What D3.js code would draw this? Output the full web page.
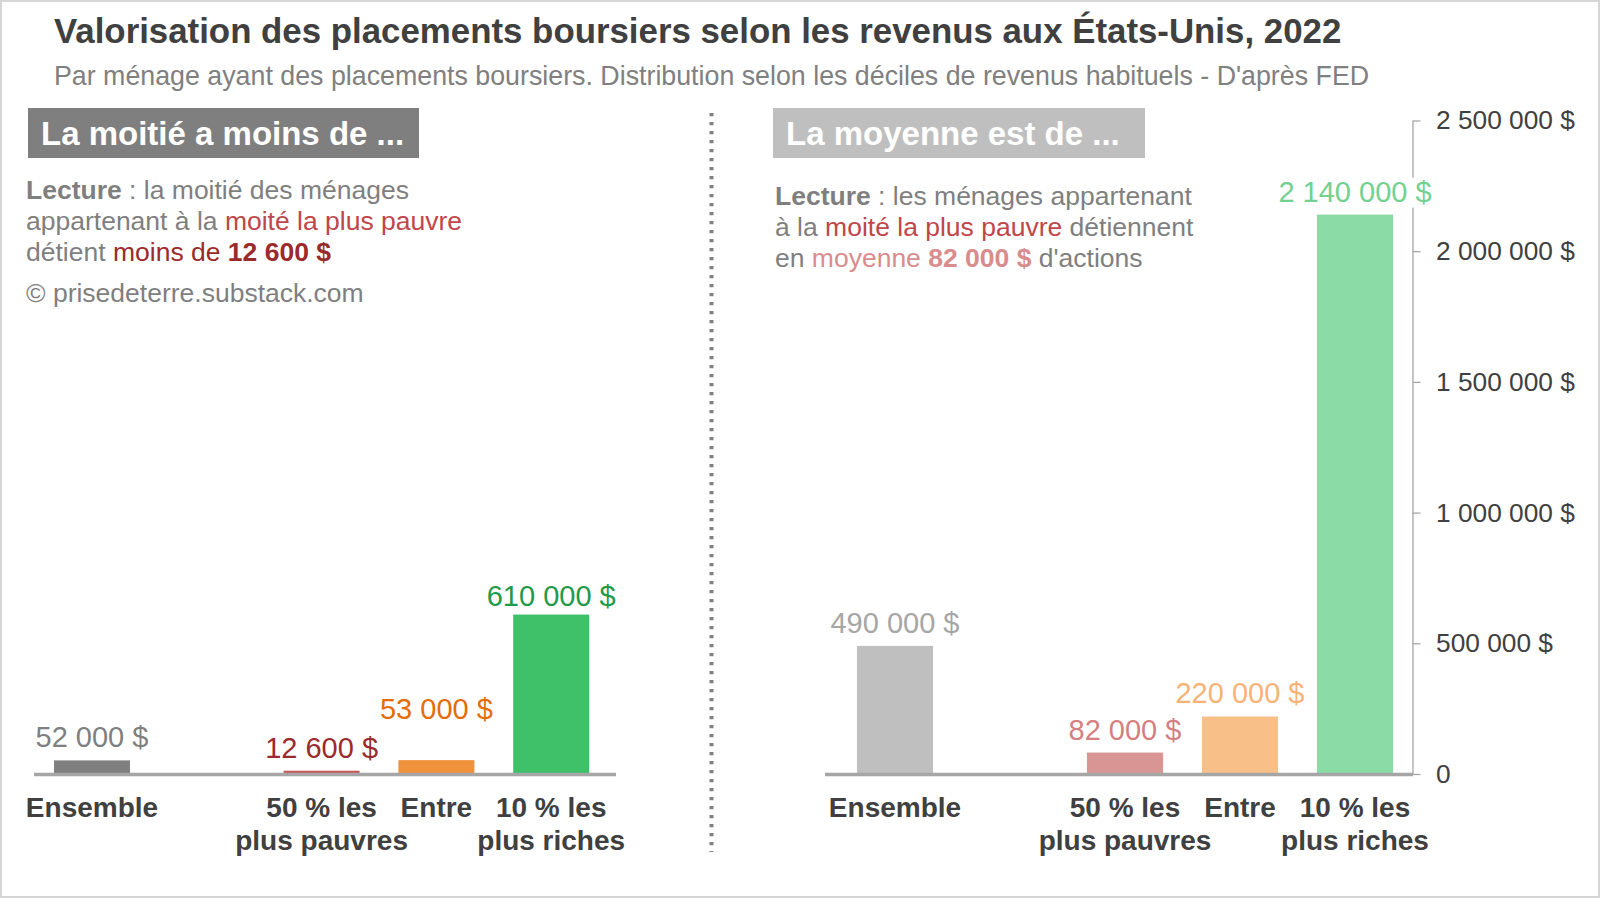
<!DOCTYPE html>
<html><head><meta charset="utf-8">
<script src="https://cdn.jsdelivr.net/npm/d3@7"></script>
<style>
html,body{margin:0;padding:0;background:#fff;}
text{font-family:"Liberation Sans",Arial,sans-serif;white-space:pre;}
</style></head>
<body><svg id="c" width="1600" height="898"></svg>
<script>
// ---------- DATA ----------
const title = "Valorisation des placements boursiers selon les revenus aux États-Unis, 2022";
const subtitle = "Par ménage ayant des placements boursiers. Distribution selon les déciles de revenus habituels - D'après FED";
const categories = ["Ensemble", "", "50 % les plus pauvres", "Entre", "10 % les plus riches"];
const categoryLines = [["Ensemble"], [], ["50 % les", "plus pauvres"], ["Entre"], ["10 % les", "plus riches"]];
const medianValues = [52000, null, 12600, 53000, 610000];   // "La moitié a moins de ..."
const meanValues = [490000, null, 82000, 220000, 2140000];  // "La moyenne est de ..."
const yTicks = [0, 500000, 1000000, 1500000, 2000000, 2500000];
const panelTitles = ["La moitié a moins de ...", "La moyenne est de ..."];
const credit = "© prisedeterre.substack.com";

// ---------- STYLE / LAYOUT ----------
const GRAY = "#7f7f7f", RED = "#c0464a", DARKRED = "#9b2a2c", PINK = "#d98c8c";
const leftBarColors = ["#7f7f7f", null, "#c9585a", "#f0913c", "#3ec169"];
const leftLabelColors = ["#7f7f7f", null, "#9b2a2c", "#e46c0a", "#1f9a48"];
const rightBarColors = ["#bfbfbf", null, "#d99594", "#f8bf88", "#8adba5"];
const rightLabelColors = ["#a6a6a6", null, "#d47f80", "#f6b376", "#72d191"];
const leftLabelLift = [0, 0, 0, 28, -4];
const rightLabelLift = [0, 0, 0, 0, 0];
const FONT = '"Liberation Sans",Arial,sans-serif';

const leftLecture = [
  [{t:"Lecture", c:GRAY, b:true}, {t:" : la moitié des ménages", c:GRAY}],
  [{t:"appartenant à la ", c:GRAY}, {t:"moité la plus pauvre", c:RED}],
  [{t:"détient ", c:GRAY}, {t:"moins de ", c:DARKRED}, {t:"12 600 $", c:DARKRED, b:true}]
];
const rightLecture = [
  [{t:"Lecture", c:GRAY, b:true}, {t:" : les ménages appartenant", c:GRAY}],
  [{t:"à la ", c:GRAY}, {t:"moité la plus pauvre", c:RED}, {t:" détiennent", c:GRAY}],
  [{t:"en ", c:GRAY}, {t:"moyenne", c:PINK}, {t:" ", c:GRAY}, {t:"82 000 $", c:PINK, b:true}, {t:" d'actions", c:GRAY}]
];

const svg = d3.select("#c");
const loc = d3.formatLocale({decimal:",", thousands:"\u00a0", grouping:[3], currency:["", "\u00a0$"]});
const fmt = v => v === 0 ? "0" : loc.format("$,d")(v);

// frame
svg.append("rect").attr("x",1).attr("y",1).attr("width",1598).attr("height",896)
  .attr("fill","#fff").attr("stroke","#d6d6d6").attr("stroke-width",2);

function fitSize(sel, target){
  const w = sel.node().getComputedTextLength();
  const fs = parseFloat(sel.attr("font-size"));
  sel.attr("font-size", fs*target/w);
}

// title & subtitle
const tt = svg.append("text").attr("x",54).attr("y",43).attr("font-size",32)
  .attr("font-weight","bold").attr("fill","#404040").text(title);
fitSize(tt, 1288);
const st = svg.append("text").attr("x",54).attr("y",85).attr("font-size",22)
  .attr("fill","#808080").text(subtitle);
fitSize(st, 1316);

// panel title boxes
const boxes = [{x:28, w:391, fill:"#7f7f7f"}, {x:773, w:372, fill:"#bfbfbf"}];
boxes.forEach((b,i)=>{
  svg.append("rect").attr("x",b.x).attr("y",108).attr("width",b.w).attr("height",50).attr("fill",b.fill);
  svg.append("text").attr("x",b.x+13).attr("y",145).attr("font-size",33).attr("font-weight","bold")
    .attr("fill","#fff").text(panelTitles[i]);
});

// lecture texts
function lecture(lines, x, y0, lh){
  lines.forEach((segs,i)=>{
    const t = svg.append("text").attr("x",x).attr("y",y0+i*lh).attr("font-size",26.5);
    segs.forEach(s=>{
      t.append("tspan").attr("fill",s.c).attr("font-weight",s.b?"bold":"normal").text(s.t);
    });
  });
}
lecture(leftLecture, 26, 199, 31);
lecture(rightLecture, 775, 205, 31);
svg.append("text").attr("x",26).attr("y",302).attr("font-size",26.5).attr("fill",GRAY).text(credit);

// dotted separator
svg.append("line").attr("x1",711.5).attr("x2",711.5).attr("y1",113).attr("y2",852)
  .attr("stroke","#808080").attr("stroke-width",4).attr("stroke-dasharray","3.3,5.7");

// shared value scale
const y = d3.scaleLinear().domain([0, 2500000]).range([774, 120.5]);

// right axis
const yAxis = svg.append("g").attr("transform","translate(1412.5,0)")
  .call(d3.axisRight(y).tickValues(yTicks).tickSize(8).tickSizeOuter(0).tickPadding(15.5).tickFormat(fmt));
yAxis.select(".domain").attr("stroke","#a6a6a6").attr("stroke-width",1.3);
yAxis.selectAll(".tick line").attr("stroke","#a6a6a6").attr("stroke-width",1.3);
yAxis.selectAll(".tick text").attr("font-family",FONT).attr("font-size",26.3).attr("fill","#404040");

function panel(values, range, barColors, labelColors, lifts, baseX){
  const x = d3.scaleBand().domain(categories).range(range).paddingInner(0.338).paddingOuter(0.169);
  const data = categories.map((c,i)=>({c, v:values[i], i})).filter(d=>d.v!==null);
  const g = svg.append("g");
  g.selectAll("rect.bar").data(data).join("rect").attr("class","bar")
    .attr("x", d=>x(d.c)).attr("width", x.bandwidth())
    .attr("y", d=>y(d.v)).attr("height", d=>y(0)-y(d.v))
    .attr("fill", d=>barColors[d.i]);
  // baseline
  g.append("line").attr("x1",baseX[0]).attr("x2",baseX[1]).attr("y1",y(0)+0.5).attr("y2",y(0)+0.5)
    .attr("stroke","#a6a6a6").attr("stroke-width",3.5);
  // value labels
  data.forEach(d=>{
    const lg = g.append("g");
    const t = lg.append("text").attr("x", x(d.c)+x.bandwidth()/2).attr("y", y(d.v)-13-lifts[d.i])
      .attr("text-anchor","middle").attr("font-size",29).attr("fill",labelColors[d.i]).text(fmt(d.v));
    const bb = t.node().getBBox();
    lg.insert("rect","text").attr("x",bb.x-2).attr("y",bb.y+2).attr("width",bb.width+4).attr("height",bb.height-2).attr("fill","#fff");
  });
  // category axis
  const ax = g.append("g").attr("transform",`translate(0,${y(0)})`)
    .call(d3.axisBottom(x).tickSize(0).tickFormat(""));
  ax.select(".domain").remove();
  ax.selectAll(".tick").each(function(c,i){
    const lines = categoryLines[categories.indexOf(c)];
    const t = d3.select(this).select("text").attr("y",0).attr("dy",null)
      .attr("font-family",FONT).attr("font-size",28).attr("font-weight","bold").attr("fill","#404040");
    lines.forEach((l,k)=>{
      t.append("tspan").attr("x",0).attr("y", 43 + k*33).text(l);
    });
  });
}
panel(medianValues, [34.6, 608.6], leftBarColors, leftLabelColors, leftLabelLift, [34, 616]);
panel(meanValues, [837.5, 1412.5], rightBarColors, rightLabelColors, rightLabelLift, [825, 1413]);
</script></body></html>
